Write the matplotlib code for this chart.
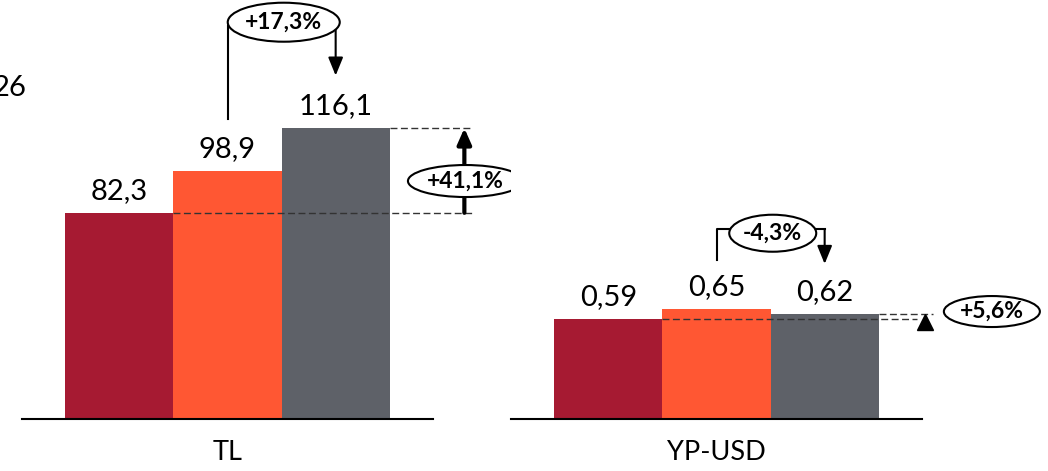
import matplotlib.pyplot as plt
import matplotlib.transforms as mtransforms
from matplotlib.patches import Ellipse

plt.rcParams['font.family'] = ['Lato', 'DejaVu Sans']

# данные
groups = ['TL', 'YP-USD']
tl_values = [82.3, 98.9, 116.1]
usd_values = [0.59, 0.65, 0.62]
tl_labels = ['82,3', '98,9', '116,1']
usd_labels = ['0,59', '0,65', '0,62']
tl_changes = ['+17,3%', '+41,1%']
usd_changes = ['-4,3%', '+5,6%']
bar_colors = ['#A61A32', '#FF5733', '#5E6168']

W, H = 1048, 471
fig = plt.figure(figsize=(W / 100, H / 100), dpi=100)
ax1 = fig.add_axes([22 / W, 52 / H, 411 / W, 419 / H])
ax2 = fig.add_axes([511 / W, 52 / H, 411 / W, 419 / H])


def ellipse(ax, x, y, w, h, text):
    # эллипс с размером в пикселях, центр в координатах данных
    tr = fig.dpi_scale_trans + mtransforms.ScaledTranslation(x, y, ax.transData)
    e = Ellipse((0, 0), w / 100, h / 100, transform=tr, fc='white', ec='black',
                lw=1.5, zorder=5, clip_on=False)
    ax.add_patch(e)
    ax.text(x, y, text, ha='center', va='center', fontsize=16.5, fontweight='bold',
            zorder=6, clip_on=False)


def arrow(ax, x, y0, y1, lw, hl, hw):
    ax.annotate('', xy=(x, y1), xytext=(x, y0),
                arrowprops=dict(arrowstyle='-|>,head_length=%s,head_width=%s' % (hl, hw),
                                mutation_scale=10, lw=lw, color='black',
                                shrinkA=0, shrinkB=0), zorder=4, annotation_clip=False)


for ax, vals, labels, name in [(ax1, tl_values, tl_labels, groups[0]),
                               (ax2, usd_values, usd_labels, groups[1])]:
    ax.bar(range(3), vals, width=1.0, color=bar_colors, zorder=2)
    for i, (v, lab) in enumerate(zip(vals, labels)):
        ax.annotate(lab, (i, v), xytext=(0, 16), textcoords='offset points',
                    ha='center', va='center', fontsize=21)
    for s in ['top', 'left', 'right']:
        ax.spines[s].set_visible(False)
    ax.spines['bottom'].set_linewidth(1.5)
    ax.spines['bottom'].set_zorder(3)
    ax.set_yticks([])
    ax.set_xticks([1])
    ax.set_xticklabels([name], fontsize=19.5)
    ax.tick_params(axis='x', length=0, pad=15)

# TL: стрелки и эллипсы
top1 = max(tl_values) + 41
ax1.plot([1, 1, 2], [tl_values[1] + 21, top1, top1], color='black', lw=1.5, zorder=4,
         clip_on=False)
arrow(ax1, 2, top1, tl_values[2] + 21, 1.5, 1.1, 0.45)
ellipse(ax1, 1.52, top1 + 1.3, 112, 39, tl_changes[0])

ax1.plot([0.5, 3.28], [tl_values[0]] * 2, color='#333333', lw=1, dashes=(5, 2.5),
         zorder=3, clip_on=False)
ax1.plot([2.5, 3.27], [tl_values[2]] * 2, color='#333333', lw=1, dashes=(5, 2.5),
         zorder=3, clip_on=False)
arrow(ax1, 3.19, tl_values[0], tl_values[2], 3, 0.95, 0.42)
ellipse(ax1, 3.2, 95, 115, 32, tl_changes[1])

# YP-USD
top2 = max(usd_values) + 0.47
ax2.plot([1, 1, 2], [usd_values[1] + 0.29, top2, top2], color='black', lw=1.5,
         zorder=4, clip_on=False)
arrow(ax2, 2, top2, usd_values[2] + 0.295, 1.5, 1.1, 0.45)
ellipse(ax2, 1.52, top2 - 0.024, 87, 37, usd_changes[0])

ax2.plot([0.5, 2.85], [usd_values[0]] * 2, color='#333333', lw=1, dashes=(5, 2.5),
         zorder=3, clip_on=False)
ax2.plot([2.5, 3.0], [usd_values[2]] * 2, color='#333333', lw=1, dashes=(5, 2.5),
         zorder=3, clip_on=False)
ax2.plot([2.93], [(usd_values[0] + usd_values[2]) / 2 - 0.03], marker='^', ms=12,
         color='black', zorder=4, clip_on=False)
ellipse(ax2, 3.546, 0.634, 96, 31, usd_changes[1])

ax1.set_xlim(-0.9, 2.9)
ax2.set_xlim(-0.9, 2.9)
ax1.set_ylim(0, 419 / 2.505)
ax2.set_ylim(0, 419 / 169.5)

fig.text(26 / W, 1 - 88 / H, '26', ha='right', va='center', fontsize=21)

fig.savefig('out.png', dpi=100)
